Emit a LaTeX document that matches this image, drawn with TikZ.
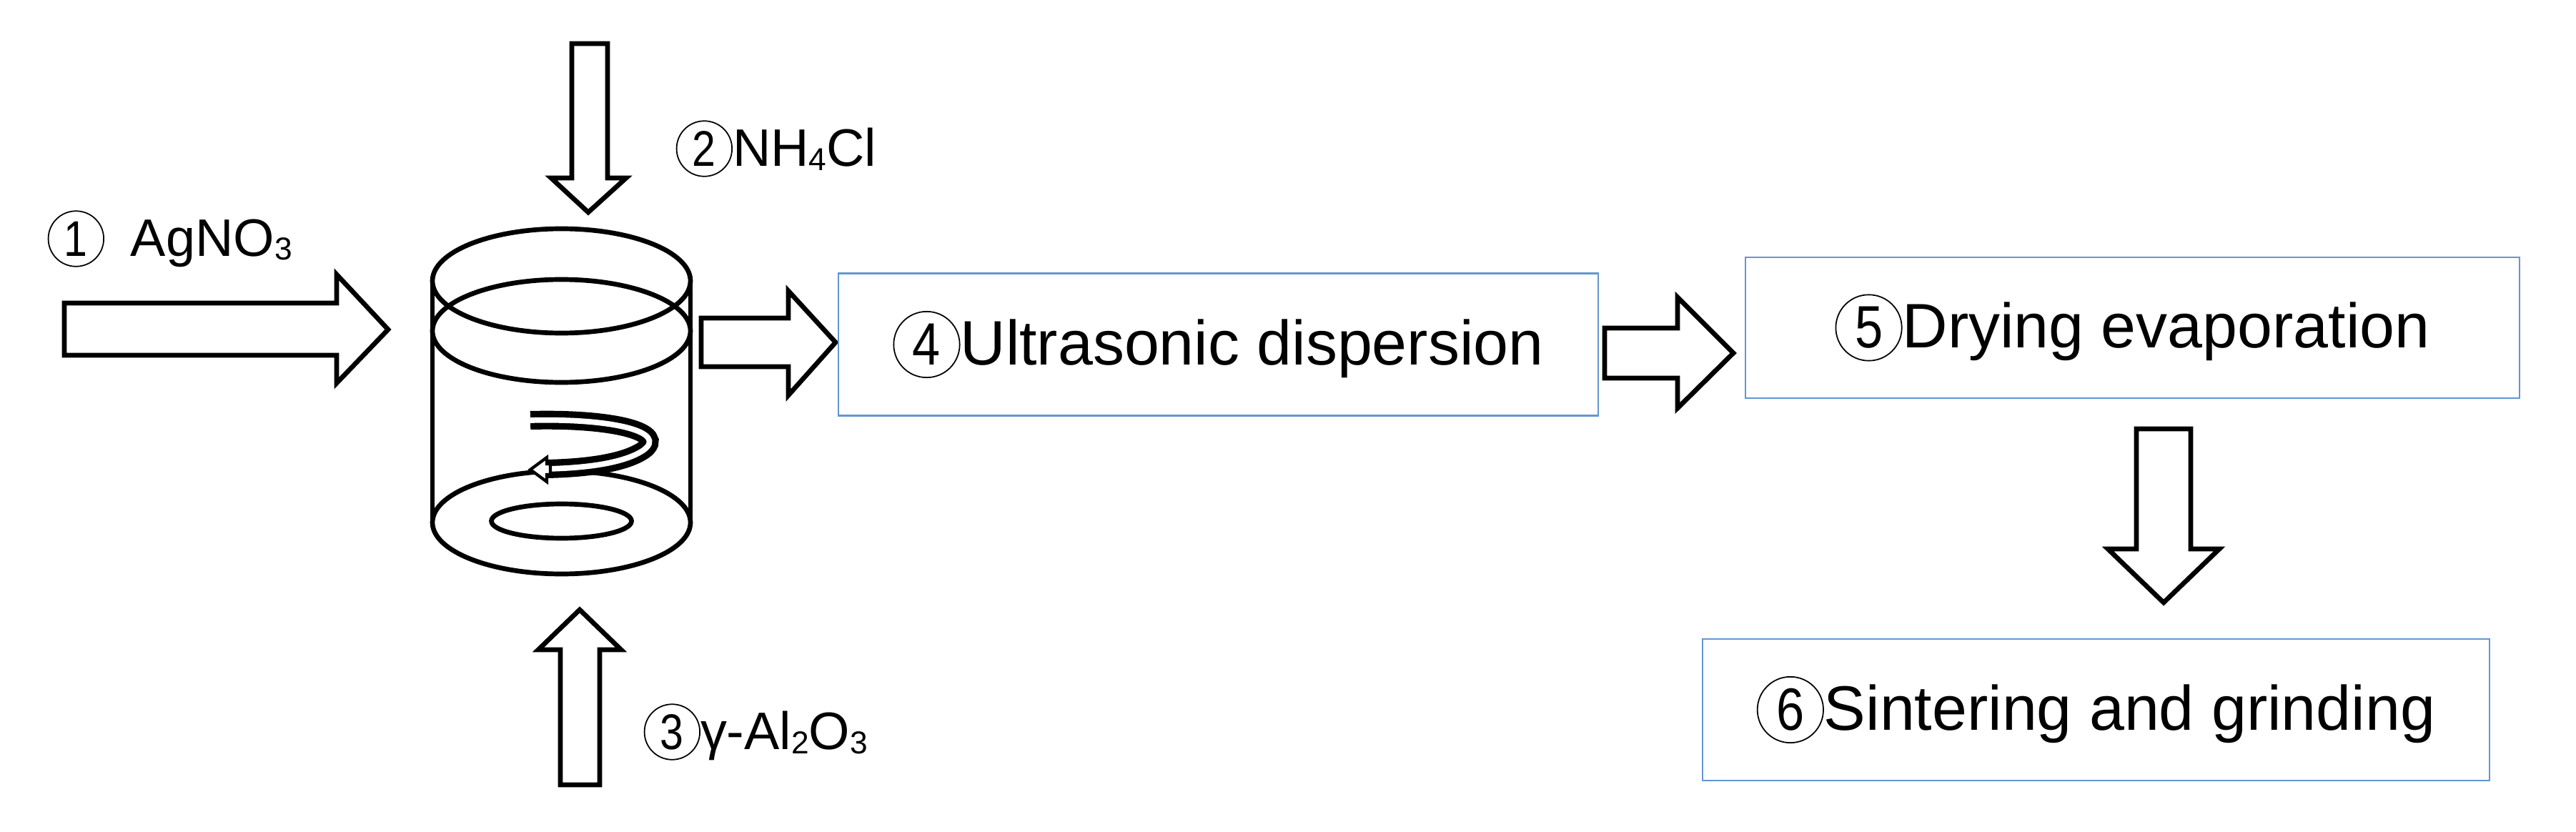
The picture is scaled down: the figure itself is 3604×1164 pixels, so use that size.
\documentclass[tikz,border=0pt]{standalone}
\usepackage{fontspec}
\setmainfont{Liberation Sans}
\newcommand{\mysub}[1]{\raisebox{-0.15ex}{\scalebox{0.6}{#1}}}
\newcommand{\circnum}[1]{\tikz[baseline=(cc.base),x=1cm,y=1cm]\node[draw,circle,line width=0.5pt,inner sep=0pt,minimum size=1.05em] (cc) {\scalebox{0.8}[0.95]{#1}};}
\definecolor{boxblue}{RGB}{100,150,210}
\begin{document}
\begin{tikzpicture}[x=0.01cm,y=-0.01cm,
  blk/.style={draw=black,line width=1.9pt,line join=miter,fill=white},
  stepbox/.style={draw=boxblue,line width=0.7pt,inner sep=0pt,font=\fontsize{25}{28}\selectfont},
  lbl/.style={anchor=west,inner sep=0pt,font=\fontsize{21}{24}\selectfont}]
\useasboundingbox (0,0) rectangle (3604,1164);
% beaker
\draw[blk] (605,393) -- (605,731);
\draw[blk] (966,393) -- (966,731);
\draw[blk] (785.5,731) ellipse [x radius=180.5, y radius=72];
\draw[blk] (785.5,729) ellipse [x radius=98, y radius=24];
\draw[blk,fill=none] (785.5,463) ellipse [x radius=180.5, y radius=72];
\draw[blk,fill=none] (785.5,393) ellipse [x radius=180.5, y radius=73];
% swirl
\draw[black,line width=2.6pt,double=white,double distance=2.2pt]
  (742,588) .. controls (860,585) and (935,605) .. (900,630)
  .. controls (870,650) and (810,655) .. (765,656);
\draw[black,line width=1.2pt,fill=white,line join=miter] (765,640) -- (742,657) -- (765,674) -- (765,664) -- (770,664) -- (770,649) -- (765,649) -- cycle;
% input arrows
\draw[blk] (90,424) -- (471,424) -- (471,384) -- (543,461) -- (471,536) -- (471,497) -- (90,497) -- cycle;
\draw[blk] (800,61) -- (850,61) -- (850,249) -- (876,249) -- (823,297) -- (771,249) -- (800,249) -- cycle;
\draw[blk] (784,1098) -- (839,1098) -- (839,909) -- (869,909) -- (811,853) -- (753,909) -- (784,909) -- cycle;
\draw[blk] (981,445) -- (1103,445) -- (1103,407) -- (1169,479) -- (1103,553) -- (1103,513) -- (981,513) -- cycle;
% labels
\node[lbl] (l1) at (66,334) {\circnum{1}\hspace{0.5em}AgNO\mysub{3}};
\node[lbl] (l2) at (945,208) {\circnum{2}NH\mysub{4}Cl};
\node[lbl] (l3) at (900,1024) {\circnum{3}γ-Al\mysub{2}O\mysub{3}};
% boxes
\node[stepbox,minimum width=0.01cm*1063,minimum height=0.01cm*199] (b4) at (1704.5,482) {\circnum{4}Ultrasonic dispersion};
\node[stepbox,minimum width=0.01cm*1083,minimum height=0.01cm*197] (b5) at (2983.5,458.5) {\circnum{5}Drying evaporation};
\node[stepbox,minimum width=0.01cm*1101,minimum height=0.01cm*198] (b6) at (2932.5,993) {\circnum{6}Sintering and grinding};
\draw[blk] (2245,459) -- (2347,459) -- (2347,416) -- (2425,494) -- (2347,571) -- (2347,529) -- (2245,529) -- cycle;
\draw[blk] (2989,600) -- (3065,600) -- (3065,768) -- (3105,768) -- (3027,843) -- (2949,768) -- (2989,768) -- cycle;
\end{tikzpicture}
\end{document}
